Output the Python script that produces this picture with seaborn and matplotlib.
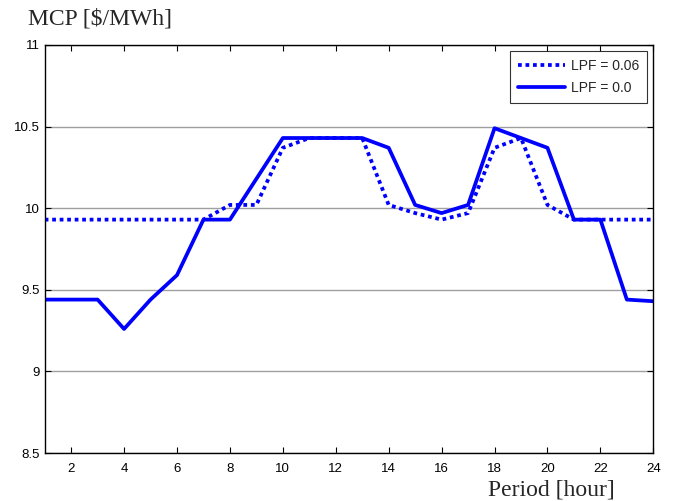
import matplotlib
matplotlib.use("Agg")
import matplotlib.pyplot as plt
import seaborn as sns
import pandas as pd

# Hourly market clearing price for two loss penalty factors
hours = list(range(1, 25))
mcp_lpf_006 = [9.93, 9.93, 9.93, 9.93, 9.93, 9.93, 9.93, 10.02, 10.02, 10.37,
               10.43, 10.43, 10.43, 10.02, 9.97, 9.93, 9.97, 10.37, 10.43, 10.02,
               9.93, 9.93, 9.93, 9.93]
mcp_lpf_000 = [9.44, 9.44, 9.44, 9.26, 9.44, 9.59, 9.93, 9.93, 10.18, 10.43,
               10.43, 10.43, 10.43, 10.37, 10.02, 9.97, 10.02, 10.49, 10.43, 10.37,
               9.93, 9.93, 9.44, 9.43]
series_labels = ["LPF = 0.06", "LPF = 0.0"]
x_ticks = list(range(2, 25, 2))
y_ticks = [8.5, 9, 9.5, 10, 10.5, 11]
y_tick_labels = ["8.5", "9", "9.5", "10", "10.5", "11"]

sns.set_style("white")
plt.rcParams["font.family"] = ["Liberation Sans", "DejaVu Sans"]

df = pd.DataFrame({
    "hour": hours * 2,
    "mcp": mcp_lpf_006 + mcp_lpf_000,
    "case": [series_labels[0]] * 24 + [series_labels[1]] * 24,
})

fig = plt.figure(figsize=(6.74, 5.01), dpi=100)
ax = fig.add_axes([0.0663, 0.0958, 0.9030, 0.8144])

sns.lineplot(data=df[df["case"] == series_labels[0]], x="hour", y="mcp",
             color="#0000ff", lw=2.7, ax=ax, label=series_labels[0],
             linestyle=(0, (1, 1)), dash_capstyle="butt")
sns.lineplot(data=df[df["case"] == series_labels[1]], x="hour", y="mcp",
             color="#0000ff", lw=2.7, ax=ax, label=series_labels[1])

ax.set_xlim(1, 24)
ax.set_ylim(8.5, 11)
ax.set_xticks(x_ticks)
ax.set_yticks(y_ticks)
ax.set_yticklabels(y_tick_labels)
ax.set_xlabel("")
ax.set_ylabel("")
ax.yaxis.grid(True, color="#a0a0a0", lw=1)
ax.xaxis.grid(False)
ax.tick_params(direction="in", length=4, width=0.8, labelsize=9.5,
               top=True, right=True, bottom=True, left=True, colors="black")
ax.tick_params(axis="x", pad=7)
for s in ax.spines.values():
    s.set_color("black")
    s.set_linewidth(1.0)

leg = ax.legend(loc="upper right", fontsize=10, handlelength=3.4,
                frameon=True, fancybox=False, borderaxespad=0.45,
                labelspacing=0.6, handletextpad=0.45, borderpad=0.55)
leg.get_frame().set_edgecolor("black")
leg.get_frame().set_linewidth(0.8)

fig.text(0.041, 0.962, "MCP [\\$/MWh]", family="Liberation Serif",
         fontsize=17, va="center", ha="left")
fig.text(0.912, 0.022, "Period [hour]", family="Liberation Serif",
         fontsize=17, va="center", ha="right")

fig.savefig("out.png", dpi=100, facecolor="white")
